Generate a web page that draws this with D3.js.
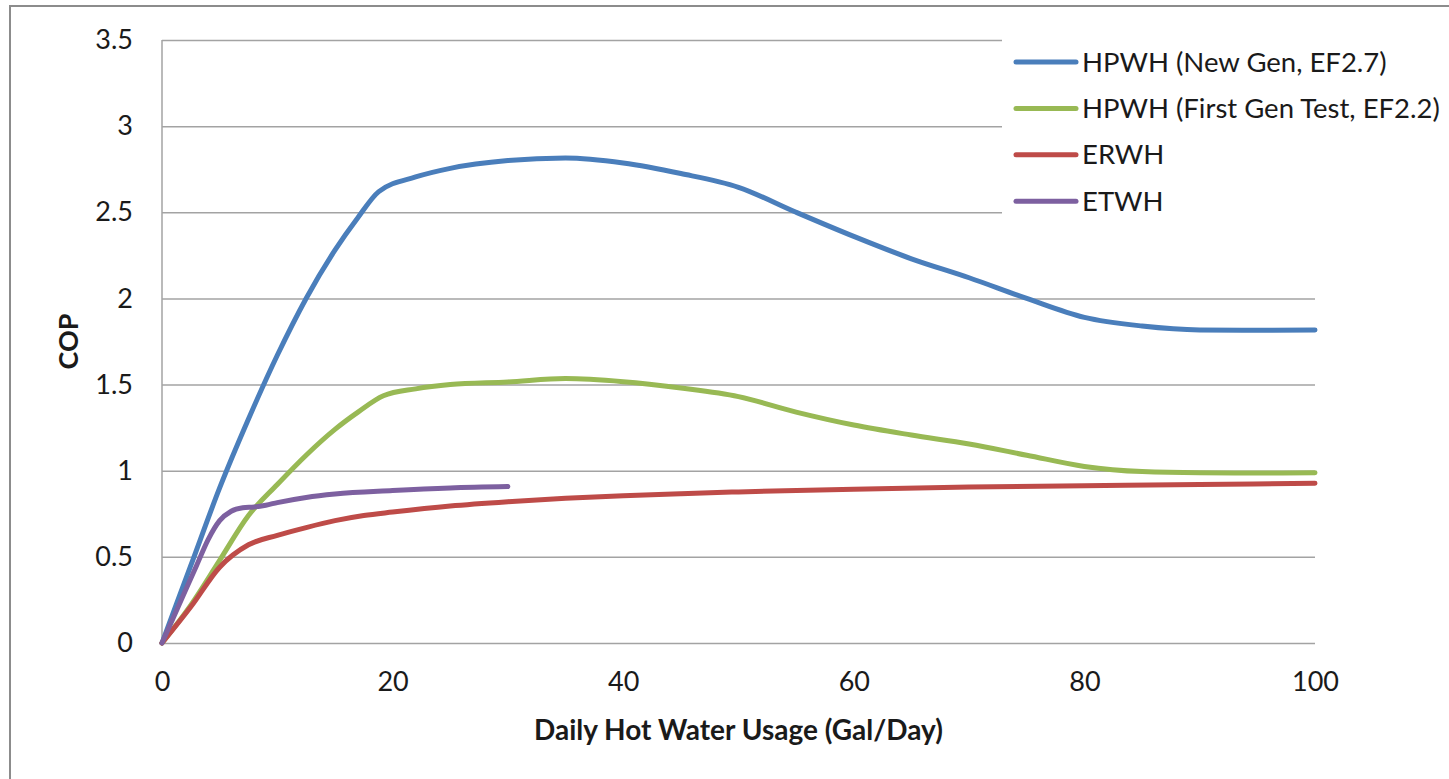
<!DOCTYPE html>
<html>
<head>
<meta charset="utf-8">
<script src="https://cdn.jsdelivr.net/npm/d3@7"></script>
<style>
  body { margin: 0; background: #fff; }
  svg text { font-family: Lato, "Open Sans", sans-serif; fill: #1a1a1a; }
</style>
</head>
<body>
<svg id="chart" width="1449" height="779"></svg>
<script>
// series values (x = gal/day, y = COP)
const newGenX = [0, 2.5, 5, 7.5, 10, 12.5, 15, 17, 18.8, 22, 25, 30, 35, 40, 45, 50, 55, 60, 65, 70, 75, 80, 85, 90, 95, 100];
const newGenY = [0, 0.45, 0.9, 1.3, 1.67, 2.0, 2.28, 2.47, 2.62, 2.705, 2.755, 2.8, 2.815, 2.786, 2.725, 2.645, 2.5, 2.36, 2.23, 2.12, 2.0, 1.89, 1.84, 1.817, 1.815, 1.817];

const firstGenX = [0, 2.5, 5, 7.5, 10, 12.5, 15, 17, 19.2, 22, 25, 30, 35, 40, 45, 50, 55, 60, 65, 70, 75, 80, 85, 90, 95, 100];
const firstGenY = [0, 0.22, 0.48, 0.74, 0.92, 1.09, 1.24, 1.34, 1.435, 1.475, 1.5, 1.515, 1.535, 1.517, 1.48, 1.43, 1.34, 1.265, 1.207, 1.155, 1.09, 1.025, 0.995, 0.988, 0.987, 0.988];

const erwhX = [0, 2.5, 5, 7.5, 10, 12.5, 15, 17.5, 20, 25, 30, 35, 40, 45, 50, 60, 70, 80, 90, 100];
const erwhY = [0, 0.21, 0.44, 0.57, 0.625, 0.67, 0.71, 0.74, 0.76, 0.795, 0.82, 0.84, 0.855, 0.867, 0.877, 0.893, 0.905, 0.913, 0.92, 0.927];

const etwhX = [0, 1, 2, 3, 4, 5, 6, 7, 8, 9, 10, 12.5, 15, 20, 25, 30];
const etwhY = [0, 0.15, 0.3, 0.45, 0.6, 0.71, 0.765, 0.785, 0.79, 0.8, 0.815, 0.845, 0.865, 0.885, 0.9, 0.908];

const seriesNames = ["HPWH (New Gen, EF2.7)", "HPWH (First Gen Test, EF2.2)", "ERWH", "ETWH"];
const seriesColors = ["#4a7ebb", "#98b954", "#be4b48", "#7d60a0"];

const xTicks = [0, 20, 40, 60, 80, 100];
const yTicks = [0, 0.5, 1, 1.5, 2, 2.5, 3, 3.5];

const series = [
    { name: seriesNames[0], color: seriesColors[0], values: newGenX.map((x, i) => [x, newGenY[i]]) },
    { name: seriesNames[1], color: seriesColors[1], values: firstGenX.map((x, i) => [x, firstGenY[i]]) },
    { name: seriesNames[2], color: seriesColors[2], values: erwhX.map((x, i) => [x, erwhY[i]]) },
    { name: seriesNames[3], color: seriesColors[3], values: etwhX.map((x, i) => [x, etwhY[i]]) }
];

const svg = d3.select("#chart");
const margin = { left: 162, right: 134, top: 40, bottom: 136 };
const width = 1449, height = 779;

const x = d3.scaleLinear().domain([0, 100]).range([margin.left, width - margin.right]);
const y = d3.scaleLinear().domain([0, 3.5]).range([height - margin.bottom, margin.top]);

// outer chart frame (only left and top edges show in the crop)
svg.append("rect")
    .attr("x", 10).attr("y", 6)
    .attr("width", 1500).attr("height", 900)
    .attr("fill", "none")
    .attr("stroke", "#8c8c8c")
    .attr("stroke-width", 2);

// gridlines
svg.append("g")
    .attr("class", "grid")
    .attr("transform", `translate(${margin.left},0)`)
    .call(d3.axisLeft(y).tickValues(yTicks).tickSize(-(x(100) - x(0))).tickFormat(""))
    .call(g => g.select(".domain").remove())
    .call(g => g.selectAll("line").attr("stroke", "#a3a3a3").attr("stroke-width", 1.5));

// y axis line
svg.append("line")
    .attr("x1", x(0)).attr("x2", x(0))
    .attr("y1", y(3.5)).attr("y2", y(0))
    .attr("stroke", "#a3a3a3").attr("stroke-width", 1.5);

// y tick labels
svg.append("g")
    .attr("transform", `translate(${margin.left},0)`)
    .call(d3.axisLeft(y).tickValues(yTicks).tickSize(0).tickPadding(29).tickFormat(d3.format("")))
    .call(g => g.select(".domain").remove())
    .call(g => g.selectAll("text").style("font-size", "27px").style("font-family", "Lato, sans-serif").attr("fill", "#1a1a1a"));

// x tick labels
svg.append("g")
    .attr("transform", `translate(0,${y(0)})`)
    .call(d3.axisBottom(x).tickValues(xTicks).tickSize(0).tickPadding(29).tickFormat(d3.format("")))
    .call(g => g.select(".domain").remove())
    .call(g => g.selectAll("text").style("font-size", "27px").style("font-family", "Lato, sans-serif").attr("fill", "#1a1a1a"));

// axis titles
svg.append("text")
    .attr("transform", `translate(78,${(y(0) + y(3.5)) / 2}) rotate(-90)`)
    .attr("text-anchor", "middle")
    .style("font-size", "27px")
    .style("font-weight", "bold")
    .text("COP");

svg.append("text")
    .attr("x", (x(0) + x(100)) / 2)
    .attr("y", 740)
    .attr("text-anchor", "middle")
    .style("font-size", "28px")
    .style("font-weight", "bold")
    .text("Daily Hot Water Usage (Gal/Day)");

// lines
const line = d3.line()
    .x(d => x(d[0]))
    .y(d => y(d[1]))
    .curve(d3.curveMonotoneX);

svg.append("g")
    .selectAll("path")
    .data(series)
    .enter().append("path")
    .attr("d", d => line(d.values))
    .attr("fill", "none")
    .attr("stroke", d => d.color)
    .attr("stroke-width", 5)
    .attr("stroke-linecap", "round")
    .attr("stroke-linejoin", "round");

// legend (white box sits over the gridlines)
const legend = svg.append("g").attr("transform", "translate(1002,30)");
legend.append("rect")
    .attr("width", 446).attr("height", 196)
    .attr("fill", "#fff");

const rows = legend.selectAll("g.row")
    .data(series)
    .enter().append("g")
    .attr("class", "row")
    .attr("transform", (d, i) => `translate(0,${32 + i * 46.4})`);

rows.append("line")
    .attr("x1", 14).attr("x2", 74)
    .attr("stroke", d => d.color)
    .attr("stroke-width", 5)
    .attr("stroke-linecap", "round");

rows.append("text")
    .attr("x", 80)
    .attr("dy", "0.35em")
    .style("font-size", "27.5px")
    .text(d => d.name);
</script>
</body>
</html>
